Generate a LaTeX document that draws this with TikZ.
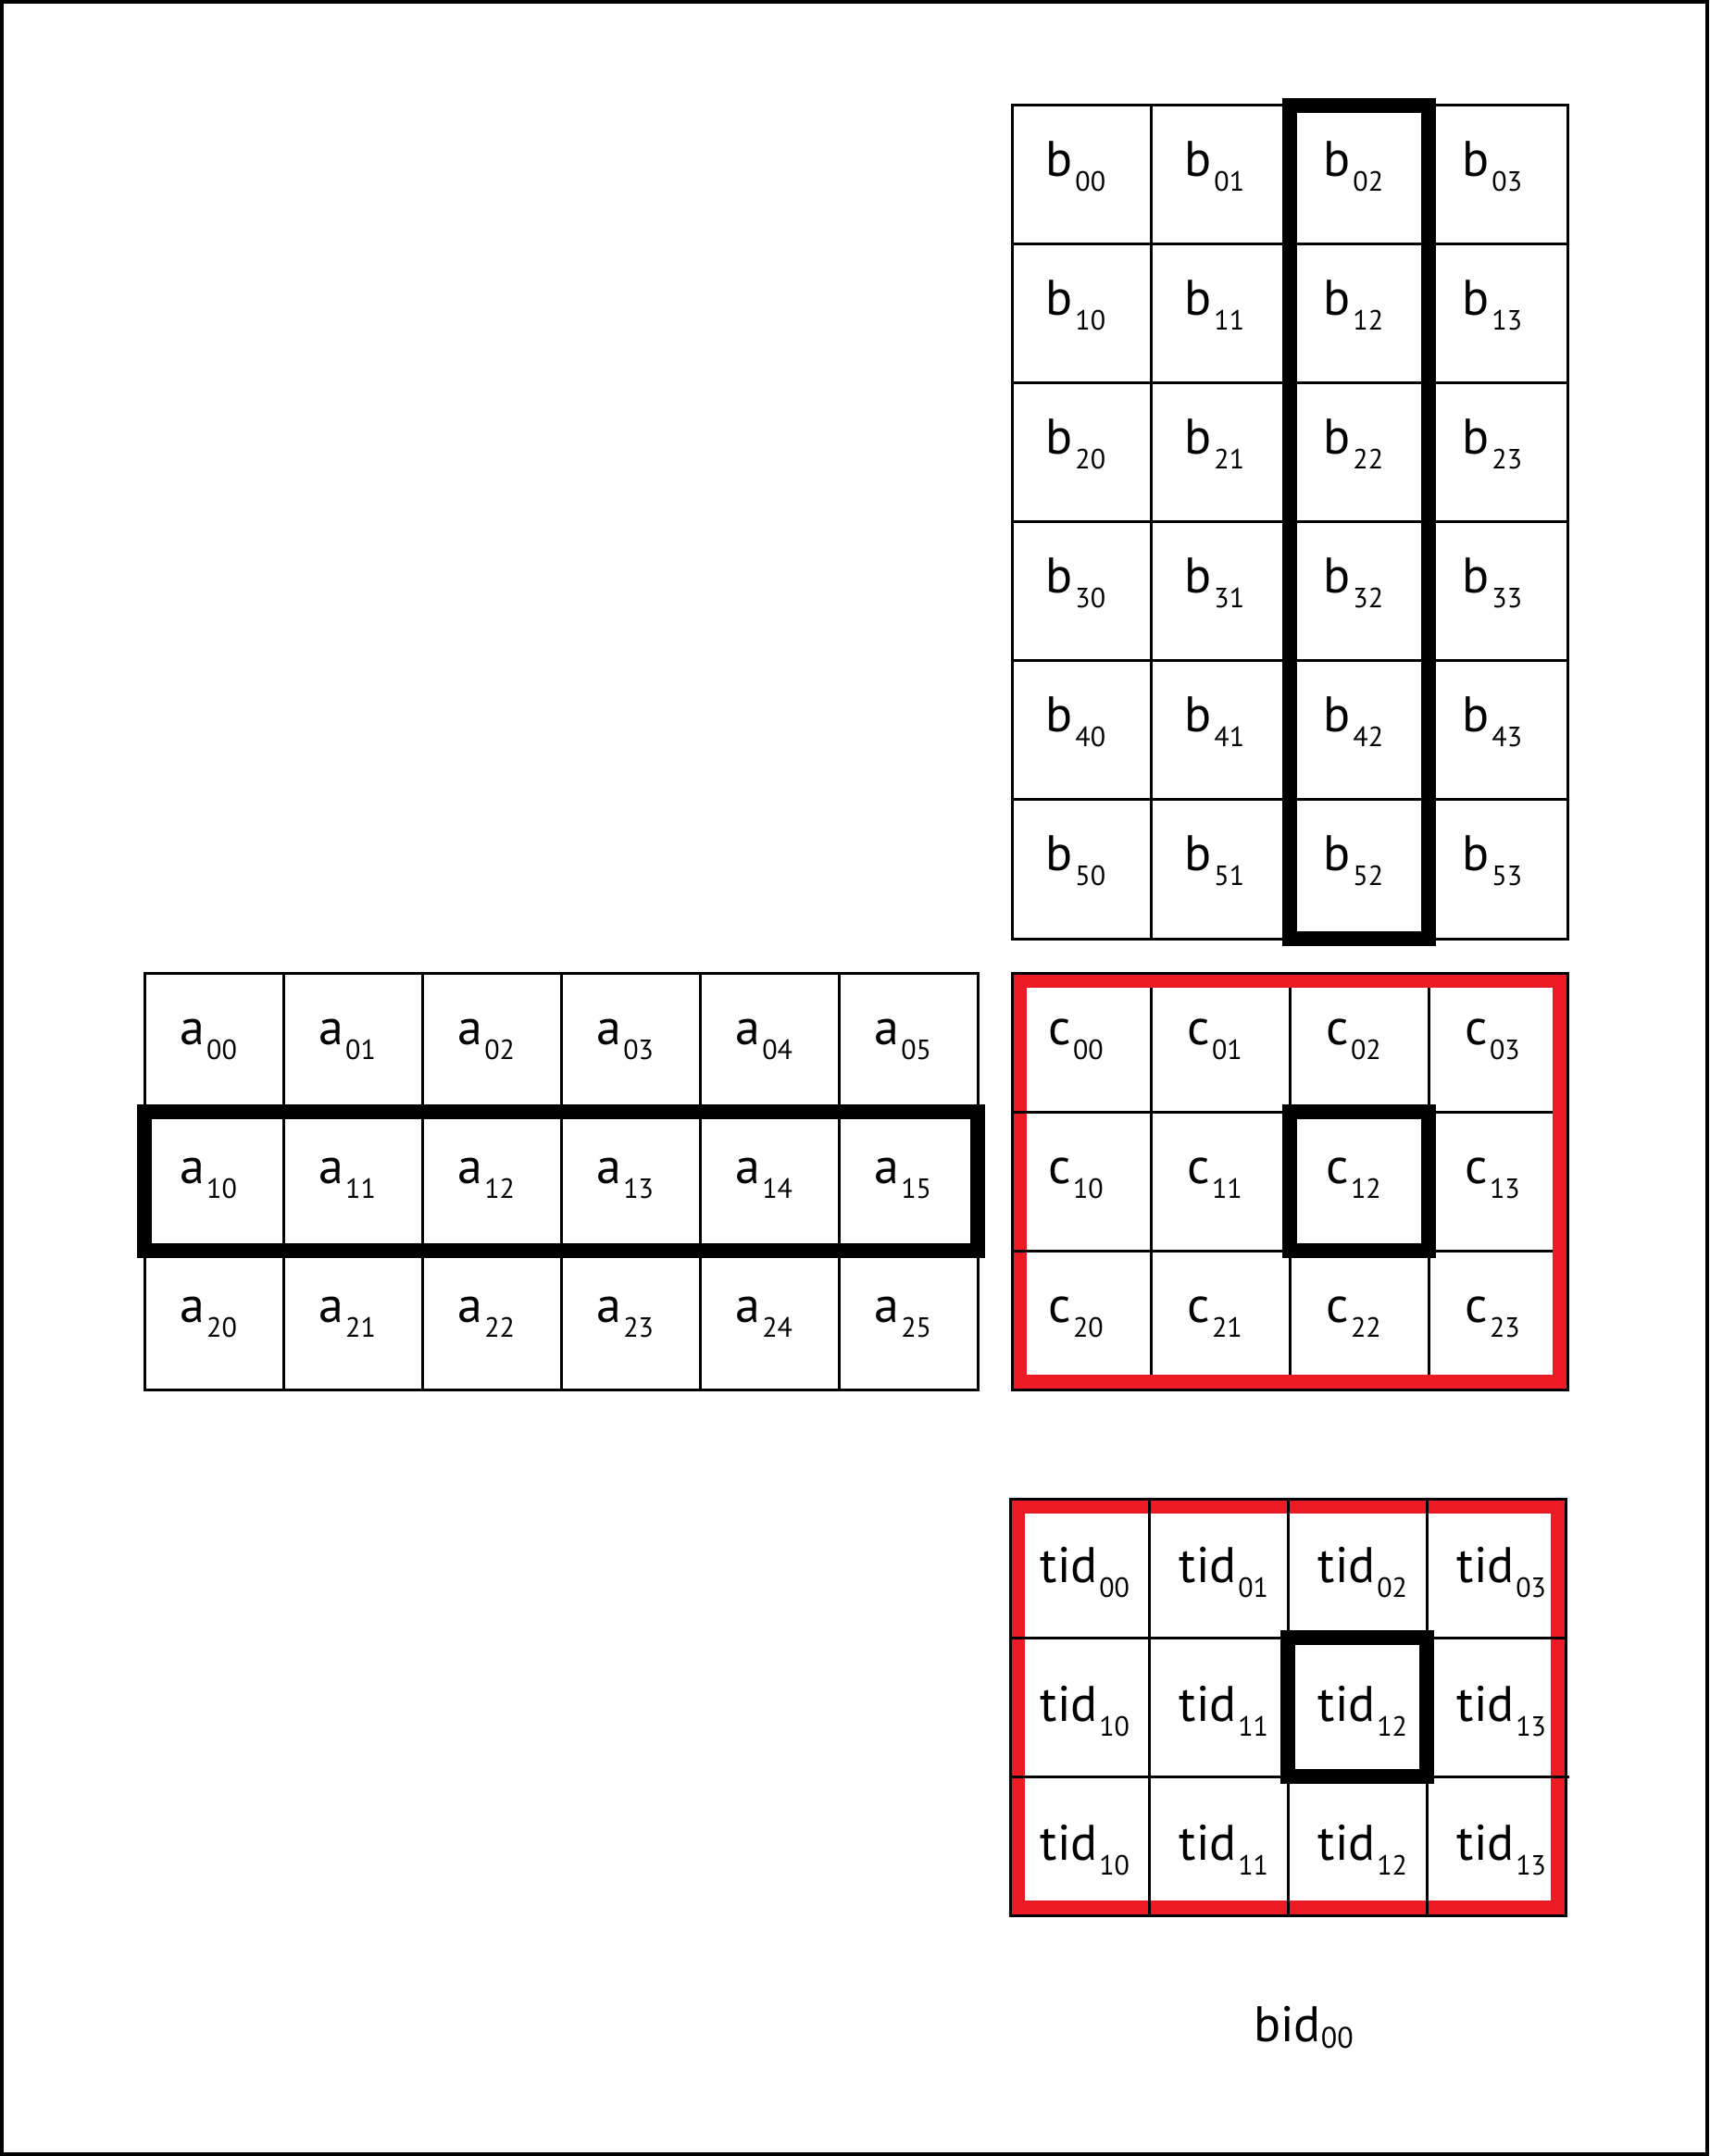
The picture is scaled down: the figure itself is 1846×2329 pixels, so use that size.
\documentclass[tikz,border=0pt]{standalone}
\usepackage{fontspec}
\setmainfont{PT Sans}
\usepackage{tikz}
\usetikzlibrary{calc,backgrounds}
\definecolor{gridred}{RGB}{237,28,36}
\newcommand{\ent}[2]{#1\kern0.6pt\raisebox{-4pt}{\fontsize{7.5}{9}\selectfont #2}\kern3pt}
\newcommand{\tidx}[1]{\kern3pt tid\kern0.4pt\raisebox{-4pt}{\fontsize{7.5}{9}\selectfont #1}}

\begin{document}
\begin{tikzpicture}[x=0.25pt, y=-0.25pt]
	\tikzstyle{cell} = [draw = black, line width = 0.75pt, minimum width = 37.5pt, minimum height = 37.5pt, inner sep = 0pt, outer sep = 0pt, text height = 4.5pt, text depth = 3.5pt, font = \fontsize{13.5}{16}\selectfont]
	\tikzstyle{tidcell} = [cell, text height = 8pt, text depth = 0.5pt]
	\tikzstyle{hilite} = [draw = black, line width = 4pt]
	\tikzstyle{redband} = [draw = gridred, line width = 4pt]
\useasboundingbox (0, 0) rectangle (1846, 2329);
\path[draw, line width = 1pt] (2, 2) rectangle (1844, 2327);

% matrix b
\node[cell] (b00) at (1168, 189) {\ent{b}{00}};
\node[cell] (b01) at (1318, 189) {\ent{b}{01}};
\node[cell] (b02) at (1468, 189) {\ent{b}{02}};
\node[cell] (b03) at (1618, 189) {\ent{b}{03}};
\node[cell] (b10) at (1168, 339) {\ent{b}{10}};
\node[cell] (b11) at (1318, 339) {\ent{b}{11}};
\node[cell] (b12) at (1468, 339) {\ent{b}{12}};
\node[cell] (b13) at (1618, 339) {\ent{b}{13}};
\node[cell] (b20) at (1168, 489) {\ent{b}{20}};
\node[cell] (b21) at (1318, 489) {\ent{b}{21}};
\node[cell] (b22) at (1468, 489) {\ent{b}{22}};
\node[cell] (b23) at (1618, 489) {\ent{b}{23}};
\node[cell] (b30) at (1168, 639) {\ent{b}{30}};
\node[cell] (b31) at (1318, 639) {\ent{b}{31}};
\node[cell] (b32) at (1468, 639) {\ent{b}{32}};
\node[cell] (b33) at (1618, 639) {\ent{b}{33}};
\node[cell] (b40) at (1168, 789) {\ent{b}{40}};
\node[cell] (b41) at (1318, 789) {\ent{b}{41}};
\node[cell] (b42) at (1468, 789) {\ent{b}{42}};
\node[cell] (b43) at (1618, 789) {\ent{b}{43}};
\node[cell] (b50) at (1168, 939) {\ent{b}{50}};
\node[cell] (b51) at (1318, 939) {\ent{b}{51}};
\node[cell] (b52) at (1468, 939) {\ent{b}{52}};
\node[cell] (b53) at (1618, 939) {\ent{b}{53}};

% matrix a
\node[cell] (a00) at (231, 1126) {\ent{a}{00}};
\node[cell] (a01) at (381, 1126) {\ent{a}{01}};
\node[cell] (a02) at (531, 1126) {\ent{a}{02}};
\node[cell] (a03) at (681, 1126) {\ent{a}{03}};
\node[cell] (a04) at (831, 1126) {\ent{a}{04}};
\node[cell] (a05) at (981, 1126) {\ent{a}{05}};
\node[cell] (a10) at (231, 1276) {\ent{a}{10}};
\node[cell] (a11) at (381, 1276) {\ent{a}{11}};
\node[cell] (a12) at (531, 1276) {\ent{a}{12}};
\node[cell] (a13) at (681, 1276) {\ent{a}{13}};
\node[cell] (a14) at (831, 1276) {\ent{a}{14}};
\node[cell] (a15) at (981, 1276) {\ent{a}{15}};
\node[cell] (a20) at (231, 1426) {\ent{a}{20}};
\node[cell] (a21) at (381, 1426) {\ent{a}{21}};
\node[cell] (a22) at (531, 1426) {\ent{a}{22}};
\node[cell] (a23) at (681, 1426) {\ent{a}{23}};
\node[cell] (a24) at (831, 1426) {\ent{a}{24}};
\node[cell] (a25) at (981, 1426) {\ent{a}{25}};

% matrix c
\node[cell] (c00) at (1168, 1126) {\ent{c}{00}};
\node[cell] (c01) at (1318, 1126) {\ent{c}{01}};
\node[cell] (c02) at (1468, 1126) {\ent{c}{02}};
\node[cell] (c03) at (1618, 1126) {\ent{c}{03}};
\node[cell] (c10) at (1168, 1276) {\ent{c}{10}};
\node[cell] (c11) at (1318, 1276) {\ent{c}{11}};
\node[cell] (c12) at (1468, 1276) {\ent{c}{12}};
\node[cell] (c13) at (1618, 1276) {\ent{c}{13}};
\node[cell] (c20) at (1168, 1426) {\ent{c}{20}};
\node[cell] (c21) at (1318, 1426) {\ent{c}{21}};
\node[cell] (c22) at (1468, 1426) {\ent{c}{22}};
\node[cell] (c23) at (1618, 1426) {\ent{c}{23}};

% threads
\node[tidcell] (t00) at (1166, 1694) {\tidx{00}};
\node[tidcell] (t01) at (1316, 1694) {\tidx{01}};
\node[tidcell] (t02) at (1466, 1694) {\tidx{02}};
\node[tidcell] (t03) at (1616, 1694) {\tidx{03}};
\node[tidcell] (t10) at (1166, 1844) {\tidx{10}};
\node[tidcell] (t11) at (1316, 1844) {\tidx{11}};
\node[tidcell] (t12) at (1466, 1844) {\tidx{12}};
\node[tidcell] (t13) at (1616, 1844) {\tidx{13}};
\node[tidcell] (t20) at (1166, 1994) {\tidx{10}};
\node[tidcell] (t21) at (1316, 1994) {\tidx{11}};
\node[tidcell] (t22) at (1466, 1994) {\tidx{12}};
\node[tidcell] (t23) at (1616, 1994) {\tidx{13}};

\node (bid) at (1408, 2190) {\fontsize{13.5}{16}\selectfont bid\raisebox{-1.8pt}{\fontsize{8}{9}\selectfont 00}};

	% red frames
	\path[redband] ($(c00.north west) + (8, 8)$) rectangle ($(c23.south east) + (-8, -8)$);
	\path[draw, line width = 0.75pt] (c00.north west) rectangle (c23.south east);
	\path[draw, line width = 0.75pt] (c10.north west) -- ++(17, 0);
	\path[draw, line width = 0.75pt] (c20.north west) -- ++(17, 0);
	\begin{scope}[on background layer]
	\path[redband] ($(t00.north west) + (8, 8)$) rectangle ($(t23.south east) + (-8, -8)$);
	\end{scope}
	\path[draw, line width = 0.75pt] (t13.south east) -- ++(4, 0);

	% highlighted row, column, element
	\path[hilite] (b02.north west) rectangle (b52.south east);
	\path[hilite] (a10.north west) rectangle (a15.south east);
	\path[hilite] (c12.north west) rectangle (c12.south east);
	\path[hilite] (t12.north west) rectangle (t12.south east);
	\end{tikzpicture}
\end{document}
